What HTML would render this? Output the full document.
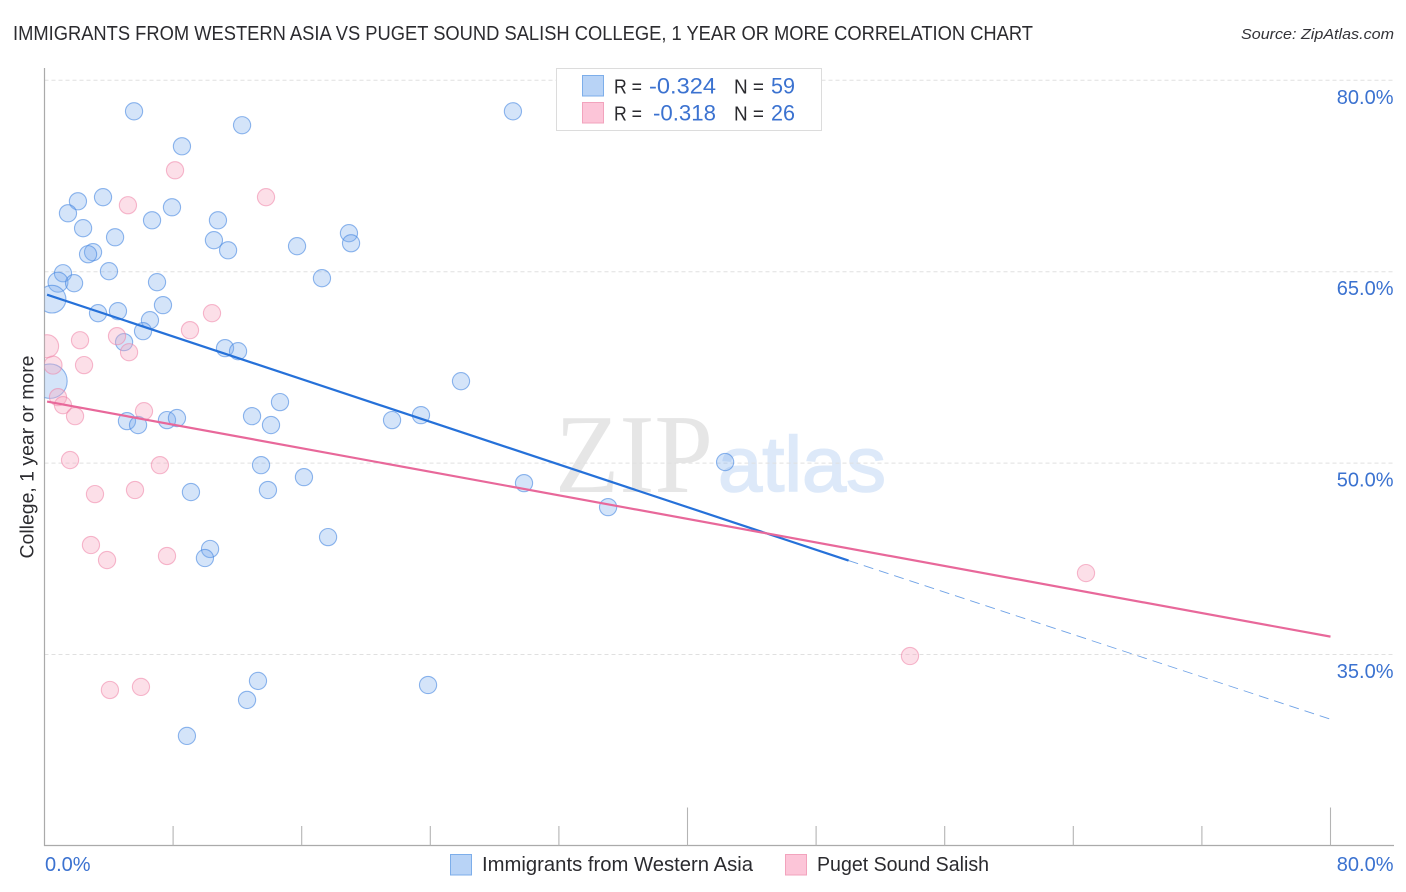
<!DOCTYPE html>
<html lang="en">
<head>
<meta charset="utf-8">
<title>Immigrants from Western Asia vs Puget Sound Salish College Correlation Chart</title>
<style>
html,body{margin:0;padding:0;background:#fff;}
body{width:1406px;height:892px;overflow:hidden;}
svg{display:block;font-family:"Liberation Sans",sans-serif;}
</style>
</head>
<body>
<svg id="chart" width="1406" height="892" viewBox="0 0 1406 892" xmlns="http://www.w3.org/2000/svg">
  <defs>
    <clipPath id="plot-clip"><rect x="44.5" y="60" width="1350" height="785.5"/></clipPath>
  </defs>
  <rect x="0" y="0" width="1406" height="892" fill="#ffffff"/>
  <text x="13" y="40" font-size="20" fill="#2b2b2f" textLength="1020" lengthAdjust="spacingAndGlyphs">IMMIGRANTS FROM WESTERN ASIA VS PUGET SOUND SALISH COLLEGE, 1 YEAR OR MORE CORRELATION CHART</text>
  <text x="1241" y="39" font-size="15" font-style="italic" fill="#333338" textLength="153" lengthAdjust="spacingAndGlyphs">Source: ZipAtlas.com</text>
  <g>
    <text x="555" y="492" font-family="'Liberation Serif',serif" font-size="112" fill="#e6e6e6" textLength="158" lengthAdjust="spacingAndGlyphs">ZIP</text>
    <text x="718" y="491" font-size="78" fill="#dde9f9" stroke="#dde9f9" stroke-width="1.6" textLength="168" lengthAdjust="spacingAndGlyphs">atlas</text>
  </g>
  <g id="grid"></g>
  <g id="axes"></g>
  <g id="points" clip-path="url(#plot-clip)"></g>
  <g id="trends"></g>
  <g id="labels"></g>
  <text transform="translate(33.5,457) rotate(-90)" text-anchor="middle" font-size="19" fill="#2b2b2f" textLength="203" lengthAdjust="spacingAndGlyphs">College, 1 year or more</text>

  <g>
    <rect x="556.5" y="68.5" width="265" height="62" fill="#ffffff" stroke="#dcdcdc" stroke-width="1"/>
    <rect x="582.5" y="75.5" width="21" height="20.5" fill="#b8d3f6" stroke="#7daeea" stroke-width="1"/>
    <rect x="582.5" y="102.5" width="21" height="20.5" fill="#fcc5d8" stroke="#f2a3bd" stroke-width="1"/>
    <text x="614" y="93.5" font-size="20" fill="#2b2b2f" textLength="28" lengthAdjust="spacingAndGlyphs">R =</text>
    <text x="649" y="93.5" font-size="22" fill="#3b72d0" textLength="67" lengthAdjust="spacingAndGlyphs">-0.324</text>
    <text x="734" y="93.5" font-size="20" fill="#2b2b2f" textLength="30" lengthAdjust="spacingAndGlyphs">N =</text>
    <text x="771" y="93.5" font-size="22" fill="#3b72d0" textLength="24" lengthAdjust="spacingAndGlyphs">59</text>
    <text x="614" y="120.5" font-size="20" fill="#2b2b2f" textLength="28" lengthAdjust="spacingAndGlyphs">R =</text>
    <text x="653" y="120.5" font-size="22" fill="#3b72d0" textLength="63" lengthAdjust="spacingAndGlyphs">-0.318</text>
    <text x="734" y="120.5" font-size="20" fill="#2b2b2f" textLength="30" lengthAdjust="spacingAndGlyphs">N =</text>
    <text x="771" y="120.5" font-size="22" fill="#3b72d0" textLength="24" lengthAdjust="spacingAndGlyphs">26</text>
  </g>

  <g>
    <g>
      <rect x="450.5" y="854.5" width="21" height="20.5" fill="#b8d3f6" stroke="#7daeea" stroke-width="1"/>
      <text x="482" y="871" font-size="20" fill="#2b2b2f" textLength="271" lengthAdjust="spacingAndGlyphs">Immigrants from Western Asia</text>
    </g>
    <g>
      <rect x="785.5" y="854.5" width="21" height="20.5" fill="#fcc5d8" stroke="#f2a3bd" stroke-width="1"/>
      <text x="817" y="871" font-size="20" fill="#2b2b2f" textLength="172" lengthAdjust="spacingAndGlyphs">Puget Sound Salish</text>
    </g>
  </g>
</svg>

<script>
// X tick values (percent) and labelled ticks
const xTicks = [8, 16, 24, 32, 40, 48, 56, 64, 72, 80];
const xMajorTicks = [40, 80];
const xTickLabels = ["0.0%", "80.0%"];
const xLabelValues = [0, 80];

// Y grid values (percent)
const yTicks = [80, 65, 50, 35];
const yTickLabels = ["80.0%", "65.0%", "50.0%", "35.0%"];

// Immigrants from Western Asia
const blueX = [5.57, 29.14, 12.29, 8.55, 2.08, 1.46, 3.64, 7.93, 6.69, 10.79, 2.40, 4.39, 10.54, 11.42, 18.94, 19.07, 15.71, 3.02, 2.71, 4.01, 1.15, 0.84, 1.84, 7.00, 17.26, 0.47, 7.37, 3.33, 4.57, 6.56, 6.13, 4.95, 11.23, 12.04, 25.91, 0.34, 14.65, 12.91, 23.42, 21.62, 5.13, 5.82, 7.62, 8.24, 14.09, 13.47, 42.34, 16.14, 13.90, 9.11, 29.83, 35.06, 17.64, 10.30, 9.98, 13.28, 23.86, 12.60, 8.86];
const blueY = [77.57, 77.57, 76.48, 74.83, 70.52, 69.58, 70.84, 70.05, 69.03, 69.03, 68.41, 67.70, 67.47, 66.68, 68.02, 67.23, 67.00, 66.53, 66.37, 65.04, 64.88, 64.18, 64.10, 64.18, 64.49, 62.85, 62.38, 61.75, 61.91, 61.20, 60.34, 59.48, 59.01, 58.77, 56.42, 56.42, 54.78, 53.68, 53.76, 53.37, 53.29, 52.98, 53.37, 53.53, 52.98, 49.84, 50.08, 48.90, 47.89, 47.73, 48.43, 46.55, 44.20, 43.27, 42.56, 32.93, 32.61, 31.44, 28.62];
const blueWeight = [1, 1, 1, 1, 1, 1, 1, 1, 1, 1, 1, 1, 1, 1, 1, 1, 1, 1, 1, 1, 1, 1.35, 1, 1, 1, 2.6, 1, 1, 1, 1, 1, 1, 1, 1, 1, 4, 1, 1, 1, 1, 1, 1, 1, 1, 1, 1, 1, 1, 1, 1, 1, 1, 1, 1, 1, 1, 1, 1, 1];

// Puget Sound Salish
const pinkX = [8.12, 13.78, 5.19, 10.42, 9.05, 4.51, 2.21, 0.16, 5.26, 0.53, 2.46, 0.84, 1.15, 1.90, 6.19, 1.59, 7.18, 5.63, 3.14, 2.89, 3.89, 7.62, 4.07, 6.00, 64.79, 53.84];
const pinkY = [72.95, 70.84, 70.21, 61.75, 60.42, 59.95, 59.63, 59.16, 58.69, 57.68, 57.68, 55.17, 54.54, 53.68, 54.07, 50.24, 49.84, 47.89, 47.57, 43.58, 42.40, 42.72, 32.22, 32.46, 41.38, 34.88];
const pinkWeight = [1, 1, 1, 1, 1, 1, 1, 1.8, 1, 1.1, 1, 1, 1, 1, 1, 1, 1, 1, 1, 1, 1, 1, 1, 1, 1, 1];

// Trend lines: [start, end] in data units
const blueTrendX = [0.16, 50.02];
const blueTrendY = [63.20, 42.36];
const blueDashX = [50.02, 80];
const blueDashY = [42.36, 29.93];
const pinkTrendX = [0.16, 80];
const pinkTrendY = [54.82, 36.40];

const SVG_NS = "http://www.w3.org/2000/svg";
const sx = v => 44.5 + v * (1286 / 80);
const sy = v => 80.3 + (80 - v) * (574.2 / 45);
const radius = w => 8.6 * Math.sqrt(w);

function make(tag, parent, attrs) {
  const el = document.createElementNS(SVG_NS, tag);
  for (const k in attrs) el.setAttribute(k, attrs[k]);
  parent.appendChild(el);
  return el;
}

const grid = document.getElementById("grid");
const axes = document.getElementById("axes");
const pointsG = document.getElementById("points");
const trends = document.getElementById("trends");
const labels = document.getElementById("labels");

yTicks.forEach((v, i) => {
  const line = make("line", grid, {x1: 44.5, x2: 1394, y1: sy(v), y2: sy(v), stroke: "#e0e0e0", "stroke-width": 1, "stroke-dasharray": "4 3"});
  
  
  const t = make("text", labels, {x: 1393.5, y: sy(v) + 23.5, "text-anchor": "end", "font-size": 20, fill: "#3b72d0"});
  t.textContent = yTickLabels[i];
  
  
});

const yAxis = make("line", axes, {x1: 44.5, x2: 44.5, y1: 68, y2: 846, stroke: "#aaaaaa", "stroke-width": 1.2});


const xAxis = make("line", axes, {x1: 44, x2: 1394, y1: 845.5, y2: 845.5, stroke: "#aaaaaa", "stroke-width": 1.2});



xTicks.forEach(v => {
  const top = xMajorTicks.includes(v) ? 807.5 : 826;
  const tick = make("line", axes, {x1: sx(v), x2: sx(v), y1: top, y2: 845.5, stroke: "#b4b4b4", "stroke-width": 1.1});
  
  
});

xLabelValues.forEach((v, i) => {
  const anchorEnd = v > 40;
  const t = make("text", labels, {x: anchorEnd ? 1393.5 : 45, y: 871, "text-anchor": anchorEnd ? "end" : "start", "font-size": 20, fill: "#3b72d0"});
  t.textContent = xTickLabels[i];
  
  
});

blueX.forEach((v, i) => {
  const c = make("circle", pointsG, {cx: sx(v), cy: sy(blueY[i]), r: radius(blueWeight[i]), fill: "rgba(120,170,235,0.32)", stroke: "rgba(70,135,225,0.6)", "stroke-width": 1.1});
  
  
});

pinkX.forEach((v, i) => {
  const c = make("circle", pointsG, {cx: sx(v), cy: sy(pinkY[i]), r: radius(pinkWeight[i]), fill: "rgba(248,170,195,0.38)", stroke: "rgba(238,130,165,0.55)", "stroke-width": 1.1});
  
  
});

const blueDash = make("line", trends, {x1: sx(blueDashX[0]), y1: sy(blueDashY[0]), x2: sx(blueDashX[1]), y2: sy(blueDashY[1]), stroke: "#6fa2e6", "stroke-width": 0.9, "stroke-dasharray": "10 6"});


const blueTrend = make("line", trends, {x1: sx(blueTrendX[0]), y1: sy(blueTrendY[0]), x2: sx(blueTrendX[1]), y2: sy(blueTrendY[1]), stroke: "#2671d9", "stroke-width": 2.2});


const pinkTrend = make("line", trends, {x1: sx(pinkTrendX[0]), y1: sy(pinkTrendY[0]), x2: sx(pinkTrendX[1]), y2: sy(pinkTrendY[1]), stroke: "#e8689a", "stroke-width": 2.2});


</script>
</body>
</html>
